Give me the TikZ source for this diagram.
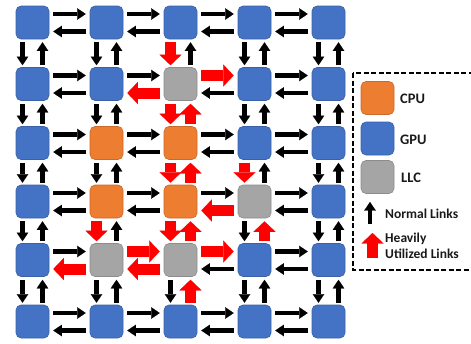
\documentclass[tikz,border=0pt]{standalone}
\usepackage{fontspec}
\setmainfont{Carlito}
\usetikzlibrary{arrows.meta}
\definecolor{gpublue}{HTML}{4472C4}
\definecolor{cpuorange}{HTML}{ED7D31}
\definecolor{llcgray}{HTML}{A5A5A5}
\definecolor{hotred}{HTML}{FF0000}
\newcommand\markhot[1]{\expandafter\def\csname nochot#1\endcsname{}}
% horizontal links: R = rightward (upper), L = leftward (lower), between (r,c) and (r,c+1)
\markhot{R12}\markhot{R41}\markhot{R42}
\markhot{L11}\markhot{L32}\markhot{L40}\markhot{L41}
% vertical links: D = downward (left), U = upward (right), between (r,c) and (r+1,c)
\markhot{D02}\markhot{D12}\markhot{D22}\markhot{D23}\markhot{D31}\markhot{D32}
\markhot{U12}\markhot{U22}\markhot{U32}\markhot{U33}\markhot{U42}
\begin{document}
\begin{tikzpicture}[x=1pt,y=-1pt,
  tile/.style={rounded corners=5pt, minimum size=33pt, inner sep=0pt, line width=0.6pt},
  gpu/.style={tile, fill=gpublue, draw=gpublue!85!black},
  cpu/.style={tile, fill=cpuorange, draw=cpuorange!85!black},
  llc/.style={tile, fill=llcgray, draw=llcgray!85!black},
  normal/.style={draw=black, line width=4.3pt, -{Triangle[length=8.5pt,width=11.5pt,line width=0.1pt]}},
  heavy/.style={draw=hotred, line width=11pt, -{Triangle[length=10.5pt,width=22pt,line width=0.1pt]}},
  legtext/.style={anchor=west, inner sep=0pt, font=\fontsize{13.5}{16.2}\selectfont\bfseries, text=black!90},
  bigtext/.style={legtext, font=\fontsize{14.5}{17}\selectfont\bfseries},
  frame/.style={line width=1.8pt, dash pattern=on 5pt off 2.5pt}
]
\useasboundingbox (0,0) rectangle (471,343);
\begin{scope}
\clip (0,0) rectangle (471,343);
% tiles
\foreach \r/\y/\a/\b/\cc/\d/\e in {0/22.5/gpu/gpu/gpu/gpu/gpu, 1/84/gpu/gpu/llc/gpu/gpu, 2/143/gpu/cpu/cpu/gpu/gpu, 3/201.5/gpu/cpu/cpu/llc/gpu, 4/260/gpu/llc/llc/gpu/gpu, 5/321.5/gpu/gpu/gpu/gpu/gpu}{
  \node[\a] (n\r0) at (32.5,\y) {};
  \node[\b] (n\r1) at (106.5,\y) {};
  \node[\cc] (n\r2) at (180.5,\y) {};
  \node[\d] (n\r3) at (254.5,\y) {};
  \node[\e] (n\r4) at (328.5,\y) {};
}
% horizontal links
\foreach \r in {0,...,5}{
  \foreach \c [evaluate=\c as \cn using int(\c+1)] in {0,...,3}{
    \ifcsname nochotR\r\c\endcsname\tikzset{cur/.style={heavy}}\else\tikzset{cur/.style={normal}}\fi
    \draw[cur] ([xshift=4pt,yshift=8.5pt]n\r\c.east) -- ([xshift=-4pt,yshift=8.5pt]n\r\cn.west);
    \ifcsname nochotL\r\c\endcsname\tikzset{cur/.style={heavy}}\else\tikzset{cur/.style={normal}}\fi
    \draw[cur] ([xshift=-4pt,yshift=-9pt]n\r\cn.west) -- ([xshift=4pt,yshift=-9pt]n\r\c.east);
  }
}
% vertical links
\foreach \r [evaluate=\r as \rn using int(\r+1)] in {0,...,4}{
  \foreach \c in {0,...,4}{
    \ifcsname nochotD\r\c\endcsname\tikzset{cur/.style={heavy}}\else\tikzset{cur/.style={normal}}\fi
    \draw[cur] ([xshift=-10pt,yshift=-3pt]n\r\c.south) -- ([xshift=-10pt,yshift=2pt]n\rn\c.north);
    \ifcsname nochotU\r\c\endcsname\tikzset{cur/.style={heavy}}\else\tikzset{cur/.style={normal}}\fi
    \draw[cur] ([xshift=10pt,yshift=2pt]n\rn\c.north) -- ([xshift=10pt,yshift=-3pt]n\r\c.south);
  }
}
% legend
\draw[frame] (353,73) rectangle (490,270);
\node[cpu] (lcpu) at (377.5,98) {};
\node[gpu] (lgpu) at (377.5,138.5) {};
\node[llc] (lllc) at (377.5,177) {};
\node[bigtext] (tcpu) at (400,99) {CPU};
\node[bigtext] (tgpu) at (400,139.5) {GPU};
\node[bigtext] (tllc) at (401,178) {LLC};
\coordinate (nb0) at (370,224);
\coordinate (nb1) at (370,202);
\draw[normal] (nb0) -- (nb1);
\node[legtext] (tnorm) at (385,214) {Normal Links};
\coordinate (hb0) at (372.5,258);
\coordinate (hb1) at (372.5,233);
\draw[heavy] (hb0) -- (hb1);
\node[legtext, align=left] (theavy) at (385,246) {Heavily\\Utilized Links};
\end{scope}
\end{tikzpicture}
\end{document}
